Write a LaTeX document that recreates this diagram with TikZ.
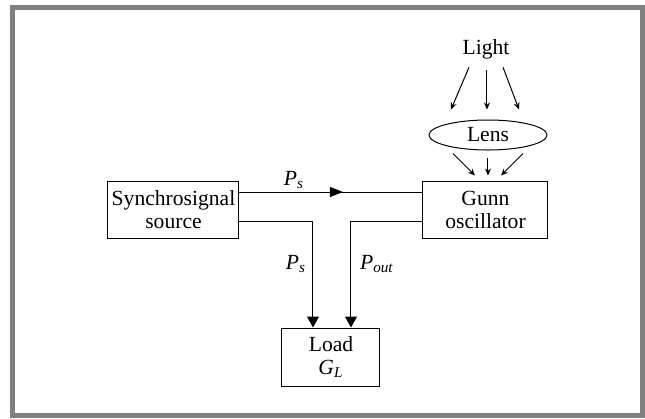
\documentclass[tikz,border=0pt]{standalone}
\usepackage{fontspec}
\setmainfont{Liberation Serif}
\usetikzlibrary{positioning, arrows.meta, shapes.geometric, decorations.markings, calc}
\newcommand{\psig}[2]{\textit{#1}\textsubscript{\textit{#2}}}

\begin{document}
\begin{tikzpicture}[x=0.5pt, y=-0.5pt,
    font=\fontsize{10.8}{11.5}\selectfont,
    box/.style={rectangle, draw, line width=0.5pt, inner sep=0pt, align=center},
    lbl/.style={inner sep=0pt},
    bigarrow/.style={-{Triangle[length=5.5pt, width=6pt]}, line width=0.5pt},
    smallarrow/.style={-{Stealth[length=3.5pt, width=3pt]}, line width=0.5pt},
    midarrow/.style={line width=0.5pt, postaction={decorate}, decoration={markings,
        mark=at position 0.565 with {\arrow{Triangle[length=6.5pt, width=5pt]}}}}
]
    % frame
    \useasboundingbox (0,0) rectangle (645,419);
    \draw[gray, line width=2.5pt] (12.5,7.5) rectangle (642.5,415.5);

    % === blocks ===
    \node[box, minimum width=65.5pt, minimum height=28.5pt] (src) at (173.5,209.5) {Synchrosignal\\source};
    \node[box, minimum width=62.5pt, minimum height=28.5pt] (gunn) at (485.5,209.5) {Gunn\\oscillator};
    \node[box, minimum width=49pt, minimum height=29pt] (load) at (331,357) {Load\\\psig{G}{L}};
    \node[ellipse, draw, line width=0.5pt, inner sep=0pt, minimum width=59pt, minimum height=15pt] (lens) at (488,135) {Lens};
    \node[lbl] (light) at (486,49) {Light};

    % === light through lens ===
    \draw[smallarrow] ([xshift=-8.5pt, yshift=-4pt]light.south) -- ([xshift=-18.5pt, yshift=5pt]lens.north);
    \draw[smallarrow] ([xshift=0.5pt, yshift=-5.5pt]light.south) -- ([xshift=-0.5pt, yshift=5pt]lens.north);
    \draw[smallarrow] ([xshift=8.5pt, yshift=-4pt]light.south) -- ([xshift=15.5pt, yshift=5pt]lens.north);
    \draw[smallarrow] ([xshift=-17.5pt, yshift=-1.5pt]lens.south) -- ([xshift=-5.25pt, yshift=2.5pt]gunn.north);
    \draw[smallarrow] ([yshift=-3.5pt]lens.south) -- ([xshift=1.25pt, yshift=2.5pt]gunn.north);
    \draw[smallarrow] ([xshift=17.5pt, yshift=-1.5pt]lens.south) -- ([xshift=7.75pt, yshift=2.5pt]gunn.north);

    % === synchro signal ===
    \draw[midarrow] ([yshift=8.75pt]src.east) -- ([yshift=8.75pt]gunn.west);
    \node[lbl] at (294,180) {\psig{P}{s}};

    % === to load ===
    \draw[bigarrow] ([yshift=-5.75pt]src.east) -| ([xshift=-9pt]load.north);
    \draw[bigarrow] ([yshift=-5.75pt]gunn.west) -| ([xshift=10pt]load.north);
    \node[lbl] at (296,264) {\psig{P}{s}};
    \node[lbl] at (377,264) {\psig{P}{out}};

\end{tikzpicture}
\end{document}
